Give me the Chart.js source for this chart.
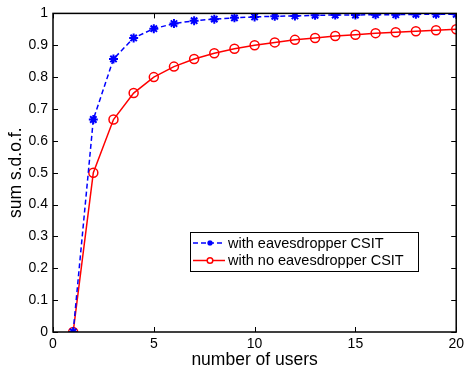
<!DOCTYPE html>
<html>
<head>
<meta charset="utf-8">
<script src="https://cdn.jsdelivr.net/npm/chart.js@4.4.0/dist/chart.umd.min.js"></script>
<style>
  html, body { margin: 0; padding: 0; background: #fff; }
  #wrap { width: 468px; height: 367px; }
</style>
</head>
<body>
<div id="wrap"><canvas id="sdofChart"></canvas></div>
<script>
const users = [1, 2, 3, 4, 5, 6, 7, 8, 9, 10, 11, 12, 13, 14, 15, 16, 17, 18, 19, 20];
const withCsit = [0, 0.667, 0.857, 0.923, 0.952, 0.968, 0.977, 0.982, 0.986, 0.989, 0.991, 0.992, 0.994, 0.995, 0.995, 0.996, 0.996, 0.997, 0.997, 0.997];
const noCsit = [0, 0.5, 0.667, 0.75, 0.8, 0.833, 0.857, 0.875, 0.889, 0.9, 0.909, 0.917, 0.923, 0.929, 0.933, 0.938, 0.941, 0.944, 0.947, 0.95];
const xTicks = [0, 5, 10, 15, 20];
const yTicks = [0, 0.1, 0.2, 0.3, 0.4, 0.5, 0.6, 0.7, 0.8, 0.9, 1];

const FONT = '"Liberation Sans", Arial, Helvetica, sans-serif';

// box round the axes plus inward ticks on all four sides, matlab style
const boxTicks = {
    id: 'boxTicks',
    afterDatasetsDraw(chart) {
        const { ctx, chartArea: a, scales } = chart;
        ctx.save();
        ctx.strokeStyle = '#000';
        ctx.lineWidth = 1;
        ctx.beginPath();
        xTicks.forEach(v => {
            const px = Math.round(scales.x.getPixelForValue(v)) + 0.5;
            ctx.moveTo(px, a.bottom); ctx.lineTo(px, a.bottom - 5);
            ctx.moveTo(px, a.top); ctx.lineTo(px, a.top + 5);
        });
        yTicks.forEach(v => {
            const py = Math.round(scales.y.getPixelForValue(v)) + 0.5;
            ctx.moveTo(a.left, py); ctx.lineTo(a.left + 5, py);
            ctx.moveTo(a.right, py); ctx.lineTo(a.right - 5, py);
        });
        ctx.stroke();
        ctx.lineWidth = 1.5;
        ctx.strokeRect(a.left, a.top, a.right - a.left, a.bottom - a.top);
        ctx.restore();
    }
};

// legend box drawn inside the axes
const boxLegend = {
    id: 'boxLegend',
    afterDraw(chart) {
        const ctx = chart.ctx;
        const x0 = 190, y0 = 232, w = 228, h = 39;
        ctx.save();
        ctx.fillStyle = '#fff';
        ctx.fillRect(x0, y0, w, h);
        ctx.strokeStyle = '#000';
        ctx.lineWidth = 1;
        ctx.strokeRect(x0 + 0.5, y0 + 0.5, w, h);
        chart.data.datasets.forEach((ds, i) => {
            const y = y0 + 11 + i * 17.5;
            ctx.strokeStyle = ds.borderColor;
            ctx.lineWidth = ds.borderWidth;
            ctx.setLineDash(ds.borderDash || []);
            ctx.beginPath();
            ctx.moveTo(x0 + 3, y);
            ctx.lineTo(x0 + 35, y);
            ctx.stroke();
            ctx.setLineDash([]);
            ctx.fillStyle = ds.id === 'open' ? '#fff' : ds.borderColor;
            Chart.helpers.drawPoint(ctx, {
                pointStyle: ds.pointStyle,
                radius: 2.8,
                borderWidth: 1.5
            }, x0 + 20, y);
            ctx.fillStyle = '#000';
            ctx.font = '14.5px ' + FONT;
            ctx.textBaseline = 'middle';
            ctx.fillText(ds.label, x0 + 38, y + 0.5);
        });
        ctx.restore();
    }
};

const ctxSdof = document.getElementById('sdofChart').getContext('2d');
new Chart(ctxSdof, {
    type: 'line',
    data: {
        datasets: [{
            label: 'with eavesdropper CSIT',
            data: users.map((u, i) => ({ x: u, y: withCsit[i] })),
            borderColor: '#0000ff',
            backgroundColor: '#0000ff',
            borderWidth: 1.5,
            borderDash: [5, 3],
            pointStyle: 'star',
            pointRadius: 4.5,
            pointBorderWidth: 2,
            pointBorderColor: '#0000ff',
            fill: false,
            tension: 0
        }, {
            id: 'open',
            label: 'with no eavesdropper CSIT',
            data: users.map((u, i) => ({ x: u, y: noCsit[i] })),
            borderColor: '#ff0000',
            backgroundColor: 'rgba(0,0,0,0)',
            borderWidth: 1.5,
            pointStyle: 'circle',
            pointRadius: 4.5,
            pointBorderWidth: 1.5,
            pointBorderColor: '#ff0000',
            fill: false,
            tension: 0
        }]
    },
    options: {
        responsive: true,
        maintainAspectRatio: false,
        animation: false,
        layout: {
            padding: { left: 0, right: 10, top: 12, bottom: 0 }
        },
        scales: {
            x: {
                type: 'linear',
                min: 0,
                max: 20,
                afterFit: s => { s.height = 35; },
                afterBuildTicks: s => { s.ticks = xTicks.map(v => ({ value: v })); },
                grid: { display: false, drawTicks: false },
                border: { display: false },
                ticks: {
                    color: '#000',
                    font: { family: FONT, size: 14 },
                    padding: 4,
                    maxRotation: 0
                },
                title: {
                    display: true,
                    text: 'number of users',
                    color: '#000',
                    font: { family: FONT, size: 17.5 },
                    padding: { top: 0, bottom: -4 }
                }
            },
            y: {
                min: 0,
                max: 1,
                afterFit: s => { s.width = 53; },
                afterBuildTicks: s => { s.ticks = yTicks.map(v => ({ value: v })); },
                grid: { display: false, drawTicks: false },
                border: { display: false },
                ticks: {
                    color: '#000',
                    font: { family: FONT, size: 14 },
                    padding: 5,
                    callback: v => String(Number(v.toFixed(1)))
                },
                title: {
                    display: true,
                    text: 'sum s.d.o.f.',
                    color: '#000',
                    font: { family: FONT, size: 17.5 },
                    padding: { top: 6, bottom: 0 }
                }
            }
        },
        plugins: {
            legend: { display: false },
            tooltip: { enabled: false }
        }
    },
    plugins: [boxTicks, boxLegend]
});
</script>
</body>
</html>
